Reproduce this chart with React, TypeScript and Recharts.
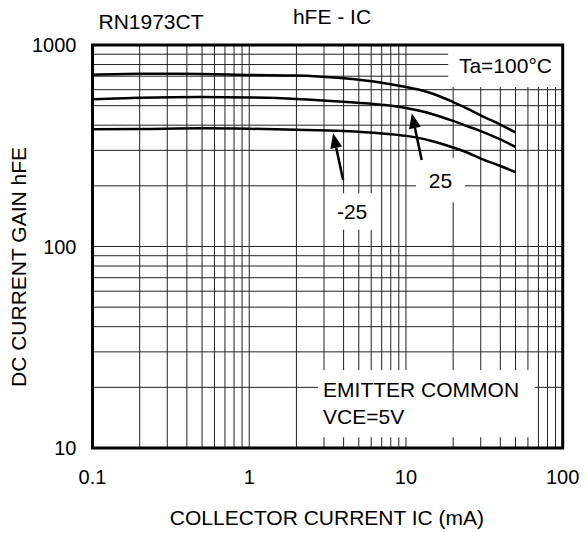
import React from 'react';
import { LineChart, Line, XAxis, YAxis, ReferenceArea, ReferenceLine } from 'recharts';

// Collector current IC (mA)
const IC = [0.1, 0.2, 0.5, 1, 2, 4, 7, 10, 12, 15, 20, 25, 30, 40, 50];
// DC current gain hFE per ambient temperature
const HFE_100 = [712, 720, 718, 710, 706, 683, 650, 619, 601, 571, 521, 481, 447, 403, 368];
const HFE_25 = [538, 547, 552, 549, 540, 523, 505, 487, 473, 452, 420, 394, 374, 340, 312];
const HFE_M25 = [382, 383, 386, 384, 380, 374, 364, 354, 346, 332, 310, 291, 273, 251, 234];

const X_TICKS = [0.1, 1, 10, 100];
const Y_TICKS = [10, 100, 1000];
const X_GRID = [0.2, 0.3, 0.4, 0.5, 0.6, 0.7, 0.8, 0.9, 1, 2, 3, 4, 5, 6, 7, 8, 9, 10, 20, 30, 40, 50, 60, 70, 80, 90];
const Y_GRID = [20, 30, 40, 50, 60, 70, 80, 90, 100, 200, 300, 400, 500, 600, 700, 800, 900];

// annotation arrows: [tail, head] in (IC, hFE)
const ARROW_25 = [{ x: 12.6, y: 269 }, { x: 10.9, y: 458 }];
const ARROW_M25 = [{ x: 3.97, y: 214 }, { x: 3.43, y: 365 }];

const data = IC.map((ic, i) => ({ ic, t100: HFE_100[i], t25: HFE_25[i], tm25: HFE_M25[i] }));

const FONT = 'Liberation Sans, Arial, Helvetica, sans-serif';

const Arrow = (props: any) => {
  const { x1, y1, x2, y2 } = props;
  if ([x1, y1, x2, y2].some((v) => typeof v !== 'number' || isNaN(v))) return null;
  const ang = Math.atan2(y2 - y1, x2 - x1);
  const L = 15, W = 6;
  const bx = x2 - L * Math.cos(ang), by = y2 - L * Math.sin(ang);
  const px = -Math.sin(ang) * W, py = Math.cos(ang) * W;
  return (
    <g>
      <line x1={x1} y1={y1} x2={bx} y2={by} stroke="#000" strokeWidth={2.5} />
      <polygon points={`${x2},${y2} ${bx + px},${by + py} ${bx - px},${by - py}`} fill="#000" />
    </g>
  );
};

const Titles = () => (
  <g fontFamily={FONT} style={{ fill: '#000' }}>
    <text x={151} y={21} fontSize={21} textAnchor="middle" dominantBaseline="central">RN1973CT</text>
    <text x={332} y={16} fontSize={21} textAnchor="middle" dominantBaseline="central">hFE - IC</text>
    <text x={327} y={517} fontSize={21} textAnchor="middle" dominantBaseline="central">COLLECTOR CURRENT IC (mA)</text>
  </g>
);

const YTitle = () => (
  <text x={18} y={267} fontSize={21} fontFamily={FONT} style={{ fill: '#000' }} textAnchor="middle" dominantBaseline="central" transform="rotate(-90 18 267)">
    DC CURRENT GAIN hFE
  </text>
);

const EmitterLabel = (props: any) => {
  const vb = props.viewBox || {};
  return (
    <g fontFamily={FONT} style={{ fill: '#000' }} fontSize={21}>
      <text x={vb.x + 5} y={vb.y + 20} dominantBaseline="central">EMITTER COMMON</text>
      <text x={vb.x + 5} y={vb.y + 47} dominantBaseline="central">VCE=5V</text>
    </g>
  );
};

export default function App() {
  return (
    <div style={{ position: 'absolute', left: 0, top: 0, width: 586, height: 533, background: '#fff' }}>
      <LineChart
        width={586}
        height={533}
        data={data}
        margin={{ top: 45, right: 23.3, bottom: 45, left: 12.5 }}
        style={{ fontFamily: FONT }}
      >
        <XAxis
          dataKey="ic"
          type="number"
          scale="log"
          domain={[0.1, 100]}
          ticks={X_TICKS}
          allowDataOverflow
          height={40}
          axisLine={false}
          tickLine={false}
          tickSize={0}
          tickMargin={22}
          tick={{ fill: '#000', fontSize: 20, fontFamily: FONT }}
          label={{ content: () => <Titles /> }}
        />
        <YAxis
          type="number"
          scale="log"
          domain={[10, 1000]}
          ticks={Y_TICKS}
          allowDataOverflow
          width={80}
          axisLine={false}
          tickLine={false}
          tickSize={0}
          tickMargin={16}
          tick={{ fill: '#000', fontSize: 20, fontFamily: FONT }}
          label={{ content: () => <YTitle /> }}
        />
        {X_GRID.map((v) => (
          <ReferenceLine key={`gx${v}`} x={v} stroke="#222" strokeWidth={1} zIndex={50} />
        ))}
        {Y_GRID.map((v) => (
          <ReferenceLine key={`gy${v}`} y={v} stroke="#222" strokeWidth={1} zIndex={50} />
        ))}
        <ReferenceArea x1={18.6} x2={100} y1={619} y2={1000} fill="#fff" fillOpacity={1} stroke="none" zIndex={100}
          label={{ value: 'Ta=100°C', position: 'center', fontSize: 21, fill: '#000', fontFamily: FONT }} />
        <ReferenceArea x1={11.6} x2={23.8} y1={166} y2={275} fill="#fff" fillOpacity={1} stroke="none" zIndex={100}
          label={{ value: '25', position: 'center', fontSize: 21, fill: '#000', fontFamily: FONT }} />
        <ReferenceArea x1={3.14} x2={6.54} y1={121} y2={184} fill="#fff" fillOpacity={1} stroke="none" zIndex={100}
          label={{ value: '-25', position: 'center', fontSize: 21, fill: '#000', fontFamily: FONT }} />
        <ReferenceArea x1={2.75} x2={66.7} y1={11.3} y2={24.4} fill="#fff" fillOpacity={1} stroke="none" zIndex={100}
          label={<EmitterLabel />} />
        <Line type="monotone" dataKey="t100" stroke="#000" strokeWidth={2.5} dot={false} isAnimationActive={false} />
        <Line type="monotone" dataKey="t25" stroke="#000" strokeWidth={2.5} dot={false} isAnimationActive={false} />
        <Line type="monotone" dataKey="tm25" stroke="#000" strokeWidth={2.5} dot={false} isAnimationActive={false} />
        <ReferenceLine segment={ARROW_25} shape={<Arrow />} ifOverflow="visible" zIndex={600} />
        <ReferenceLine segment={ARROW_M25} shape={<Arrow />} ifOverflow="visible" zIndex={600} />
        <ReferenceArea x1={0.1} x2={100} y1={10} y2={1000} fill="none" stroke="#000" strokeWidth={3} ifOverflow="visible" zIndex={700} />
      </LineChart>
    </div>
  );
}
